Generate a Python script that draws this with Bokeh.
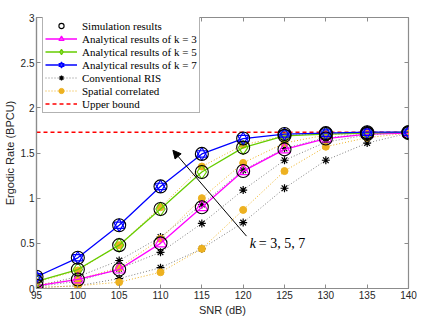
from bokeh.plotting import figure
from bokeh.models import (LinearAxis, Legend, LegendItem, Arrow, NormalHead, Label,
                          FixedTicker, Range1d)
from bokeh.embed import file_html
from bokeh.resources import INLINE

# ---------------- data ----------------
snr = [95, 100, 105, 110, 115, 120, 125, 130, 135, 140]
k3 = [0.03, 0.10, 0.21, 0.50, 0.90, 1.30, 1.54, 1.66, 1.71, 1.72]
k5 = [0.08, 0.21, 0.48, 0.88, 1.29, 1.56, 1.69, 1.71, 1.72, 1.73]
k7 = [0.13, 0.34, 0.70, 1.13, 1.49, 1.66, 1.71, 1.72, 1.73, 1.73]
conv3 = [0.01, 0.03, 0.11, 0.23, 0.44, 0.73, 1.11, 1.42, 1.61, 1.72]
conv5 = [0.02, 0.08, 0.22, 0.40, 0.72, 1.09, 1.42, 1.62, 1.70, 1.73]
conv7 = [0.03, 0.13, 0.31, 0.57, 0.93, 1.31, 1.55, 1.67, 1.71, 1.73]
spat3 = [0.01, 0.03, 0.07, 0.18, 0.44, 0.87, 1.30, 1.57, 1.67, 1.72]
spat5 = [0.04, 0.10, 0.23, 0.55, 1.00, 1.39, 1.61, 1.70, 1.72, 1.73]
spat7 = [0.07, 0.20, 0.48, 0.90, 1.35, 1.59, 1.69, 1.72, 1.73, 1.73]
upper_bound = 1.73
x_ticks = [95, 100, 105, 110, 115, 120, 125, 130, 135, 140]
y_ticks = [0, 0.5, 1, 1.5, 2, 2.5, 3]

MAG = "#FF00FF"
GRN = "#66CC00"
BLU = "#0000FF"
ORG = "#EDB120"
GRY = "#808080"
AXC = "#8c8c8c"
TXT = "#262626"
SANS = "Liberation Sans"
SERIF = "Liberation Serif"

FW, FH = 372, 271
LEG_H = 7 * 13 + 4

p = figure(frame_width=FW, frame_height=FH, x_range=Range1d(95, 140), y_range=Range1d(0, 3),
           output_backend="svg", toolbar_location=None,
           min_border_top=17, min_border_right=9, min_border_left=33, min_border_bottom=27)
p.grid.visible = False
p.outline_line_color = AXC
p.outline_line_width = 1.2

for ax in p.xaxis + p.yaxis:
    ax.axis_line_color = AXC
    ax.axis_line_width = 1.2
    ax.major_tick_line_color = AXC
    ax.major_tick_in = 4
    ax.major_tick_out = 0
    ax.minor_tick_line_color = None
    ax.major_label_text_font = SANS
    ax.major_label_text_font_size = "10px"
    ax.major_label_text_color = TXT
    ax.axis_label_text_font = SANS
    ax.axis_label_text_font_size = "11px"
    ax.axis_label_text_font_style = "normal"
    ax.axis_label_text_color = TXT
    ax.major_label_standoff = 2
    ax.axis_label_standoff = 2

p.xaxis.ticker = FixedTicker(ticks=x_ticks)
p.yaxis.ticker = FixedTicker(ticks=y_ticks)
p.xaxis.axis_label = "SNR (dB)"
p.yaxis.axis_label = "Ergodic Rate (BPCU)"

# top/right tick marks (MATLAB box), no labels
top = LinearAxis(ticker=FixedTicker(ticks=x_ticks),
                 major_label_overrides={t: "" for t in x_ticks},
                 major_tick_in=4, major_tick_out=0, minor_tick_line_color=None,
                 axis_line_color=None, major_tick_line_color=AXC, major_label_standoff=0)
right = LinearAxis(ticker=FixedTicker(ticks=y_ticks),
                   major_label_overrides={t: "" for t in y_ticks},
                   major_tick_in=4, major_tick_out=0, minor_tick_line_color=None,
                   axis_line_color=None, major_tick_line_color=AXC, major_label_standoff=0)
p.add_layout(top, "above")
p.add_layout(right, "right")

# conventional RIS
conv_r = []
for ys in (conv3, conv5, conv7):
    l = p.line(snr, ys, line_color=GRY, line_dash="1 2", line_width=1)
    m = p.scatter(snr, ys, marker="asterisk", size=8, line_color="black", line_width=1.2)
    conv_r.append((l, m))

# spatial correlated
spat_r = []
for ys in (spat3, spat5, spat7):
    l = p.line(snr, ys, line_color=ORG, line_dash="1 2", line_width=1)
    m = p.scatter(snr, ys, marker="circle", size=7, fill_color=ORG, line_color=ORG)
    spat_r.append((l, m))

# upper bound
ub = p.line([snr[0], snr[-1]], [upper_bound, upper_bound], line_color="#FF0000",
            line_dash="4 3", line_width=1.4)

# analytical
l3 = p.line(snr, k3, line_color=MAG, line_width=1.3)
m3 = p.scatter(snr, k3, marker="triangle", size=12, fill_color=None, line_color=MAG, line_width=1.2)
l5 = p.line(snr, k5, line_color=GRN, line_width=1.3)
m5 = p.scatter(snr, k5, marker="diamond", size=14, fill_color=None, line_color=GRN, line_width=1.2)
l7 = p.line(snr, k7, line_color=BLU, line_width=1.3)
m7a = p.scatter(snr, k7, marker="triangle", size=11, fill_color=None, line_color=BLU, line_width=1.2)
m7b = p.scatter(snr, k7, marker="inverted_triangle", size=11, fill_color=None, line_color=BLU, line_width=1.2)

# simulation (circles over each analytical point)
sims = []
for ys in (k3, k5, k7):
    sims.append(p.scatter(snr, ys, marker="circle", size=13, fill_color=None,
                          line_color="black", line_width=1.1))

# arrow + label
p.add_layout(Arrow(end=NormalHead(size=8, fill_color="black", line_color="black", line_width=1),
                   x_start=120.4, y_start=0.58, x_end=111.5, y_end=1.53,
                   line_color="black", line_width=1))
p.add_layout(Label(x=120.8, y=0.5, text="k", text_font=SERIF, text_font_style="italic",
                   text_font_size="14px", text_baseline="middle", text_color="black"))
p.add_layout(Label(x=120.8, y=0.5, x_offset=9, text="= 3, 5, 7", text_font=SERIF,
                   text_font_size="14px", text_baseline="middle", text_color="black"))

legend = Legend(items=[
    LegendItem(label="Simulation results", renderers=[sims[0]]),
    LegendItem(label="Analytical results of k = 3", renderers=[l3, m3]),
    LegendItem(label="Analytical results of k = 5", renderers=[l5, m5]),
    LegendItem(label="Analytical results of k = 7", renderers=[l7, m7a, m7b]),
    LegendItem(label="Conventional RIS", renderers=list(conv_r[0])),
    LegendItem(label="Spatial correlated", renderers=list(spat_r[0])),
    LegendItem(label="Upper bound", renderers=[ub]),
], location=(6, FH - LEG_H - 1))
legend.label_text_font = SERIF
legend.label_text_font_size = "11px"
legend.label_text_color = "black"
legend.label_height = 13
legend.glyph_height = 13
legend.glyph_width = 32
legend.spacing = 0
legend.padding = 2
legend.margin = 0
legend.label_standoff = 5
legend.border_line_color = "#666666"
legend.border_line_width = 1
legend.background_fill_alpha = 1
p.add_layout(legend, "center")

open("out.html", "w").write(file_html(p, INLINE))
